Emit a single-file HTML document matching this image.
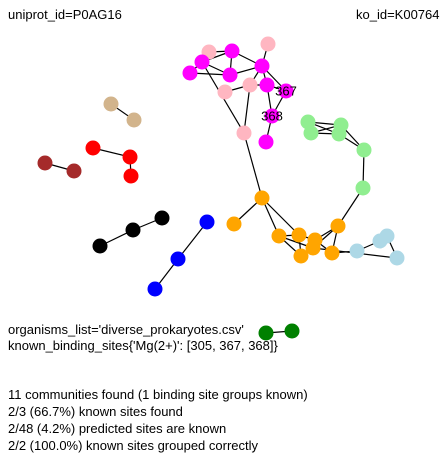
<!DOCTYPE html>
<html><head><meta charset="utf-8"><style>
body{margin:0;background:#fff;font-family:"Liberation Sans",sans-serif}
svg{display:block}
text{font-family:"Liberation Sans",sans-serif;font-size:13px;fill:#000}
</style></head><body>
<svg id="c" width="442" height="454">
<text x="8" y="19">uniprot_id=P0AG16</text>
<text x="356" y="19">ko_id=K00764</text>
<g id="edges"></g><g id="nodes"></g>
<text x="8" y="334">organisms_list='diverse_prokaryotes.csv'</text>
<text x="8" y="350">known_binding_sites{'Mg(2+)': [305, 367, 368]}</text>
<text x="8" y="399">11 communities found (1 binding site groups known)</text>
<text x="8" y="416">2/3 (66.7%) known sites found</text>
<text x="8" y="433">2/48 (4.2%) predicted sites are known</text>
<text x="8" y="450">2/2 (100.0%) known sites grouped correctly</text>
</svg>
<script>
const nodeIds=['a','b','c','d','e','f','g','h','i','j','n367','n368','k','l','g1','g2','g3','g4','g5','g6','o1','o2','o3','o4','o5','o6','o7','o8','o9','lb1','lb2','lb3','lb4','t1','t2','r1','r2','r3','dr1','dr2','bk1','bk2','bk3','bl1','bl2','bl3','dg1','dg2'];
const nodeX=[209,232,268,202,190,230,262,225,250,267,286,272,244,266,308,311,341,339,364,363,262,234,279,299,315,313,301,332,338,357,380,387,397,111,134,93,130,131,45,74,100,133,162,207,178,155,266,292];
const nodeY=[52,51,44,62,73,75,66,92,85,85,91,116,133,142,122,133,125,134,150,188,198,224,236,235,240,248,256,253,226,251,241,236,258,104,120,148,157,176,163,171,246,230,218,222,259,289,333,331];
const nodeColors=['#ffb6c1','#ff00ff','#ffb6c1','#ff00ff','#ff00ff','#ff00ff','#ff00ff','#ffb6c1','#ffb6c1','#ff00ff','#ff00ff','#ff00ff','#ffb6c1','#ff00ff','#90ee90','#90ee90','#90ee90','#90ee90','#90ee90','#90ee90','#ffa500','#ffa500','#ffa500','#ffa500','#ffa500','#ffa500','#ffa500','#ffa500','#ffa500','#add8e6','#add8e6','#add8e6','#add8e6','#d2b48c','#d2b48c','#ff0000','#ff0000','#ff0000','#a52a2a','#a52a2a','#000000','#000000','#000000','#0000ff','#0000ff','#0000ff','#008000','#008000'];
const nodeLabels={n367:'367',n368:'368'};
const edgeFrom=['d','d','d','e','b','b','a','f','g','g','g','g','h','i','j','j','n368','n368','d','i','g1','g1','g2','g2','g3','g4','g5','g6','k','o1','o1','o1','o3','o3','o3','o4','o4','o5','o6','o8','o5','o8','o6','lb1','lb2','lb3','o6','t1','r1','r2','dr1','bk1','bk2','bl1','bl2','dg1'];
const edgeTo=['e','b','f','f','f','g','b','g','c','i','j','n367','i','j','n368','n367','n367','l','k','k','g3','g4','g3','g4','g5','g5','g6','o9','o1','o2','o3','o4','o4','o6','o7','o5','o7','o9','o9','o9','o8','lb1','o7','lb2','lb3','lb4','lb4','t2','r2','r3','dr2','bk2','bk3','bl2','bl3','dg2'];
const idx=id=>nodeIds.indexOf(id);
const E=document.getElementById('edges'),N=document.getElementById('nodes'),ns='http://www.w3.org/2000/svg';
edgeFrom.forEach((f,i)=>{const a=idx(f),b=idx(edgeTo[i]);const l=document.createElementNS(ns,'line');
l.setAttribute('x1',nodeX[a]);l.setAttribute('y1',nodeY[a]);l.setAttribute('x2',nodeX[b]);l.setAttribute('y2',nodeY[b]);
l.setAttribute('stroke','#000');l.setAttribute('stroke-width','1.2');


E.appendChild(l);});
nodeIds.forEach((id,i)=>{const c=document.createElementNS(ns,'circle');
c.setAttribute('cx',nodeX[i]);c.setAttribute('cy',nodeY[i]);c.setAttribute('r','7.5');c.setAttribute('fill',nodeColors[i]);


N.appendChild(c);
if(nodeLabels[id]){const t=document.createElementNS(ns,'text');t.setAttribute('x',nodeX[i]);t.setAttribute('y',nodeY[i]+4.5);t.setAttribute('text-anchor','middle');t.textContent=nodeLabels[id];


N.appendChild(t);}});
</script>
</body></html>
